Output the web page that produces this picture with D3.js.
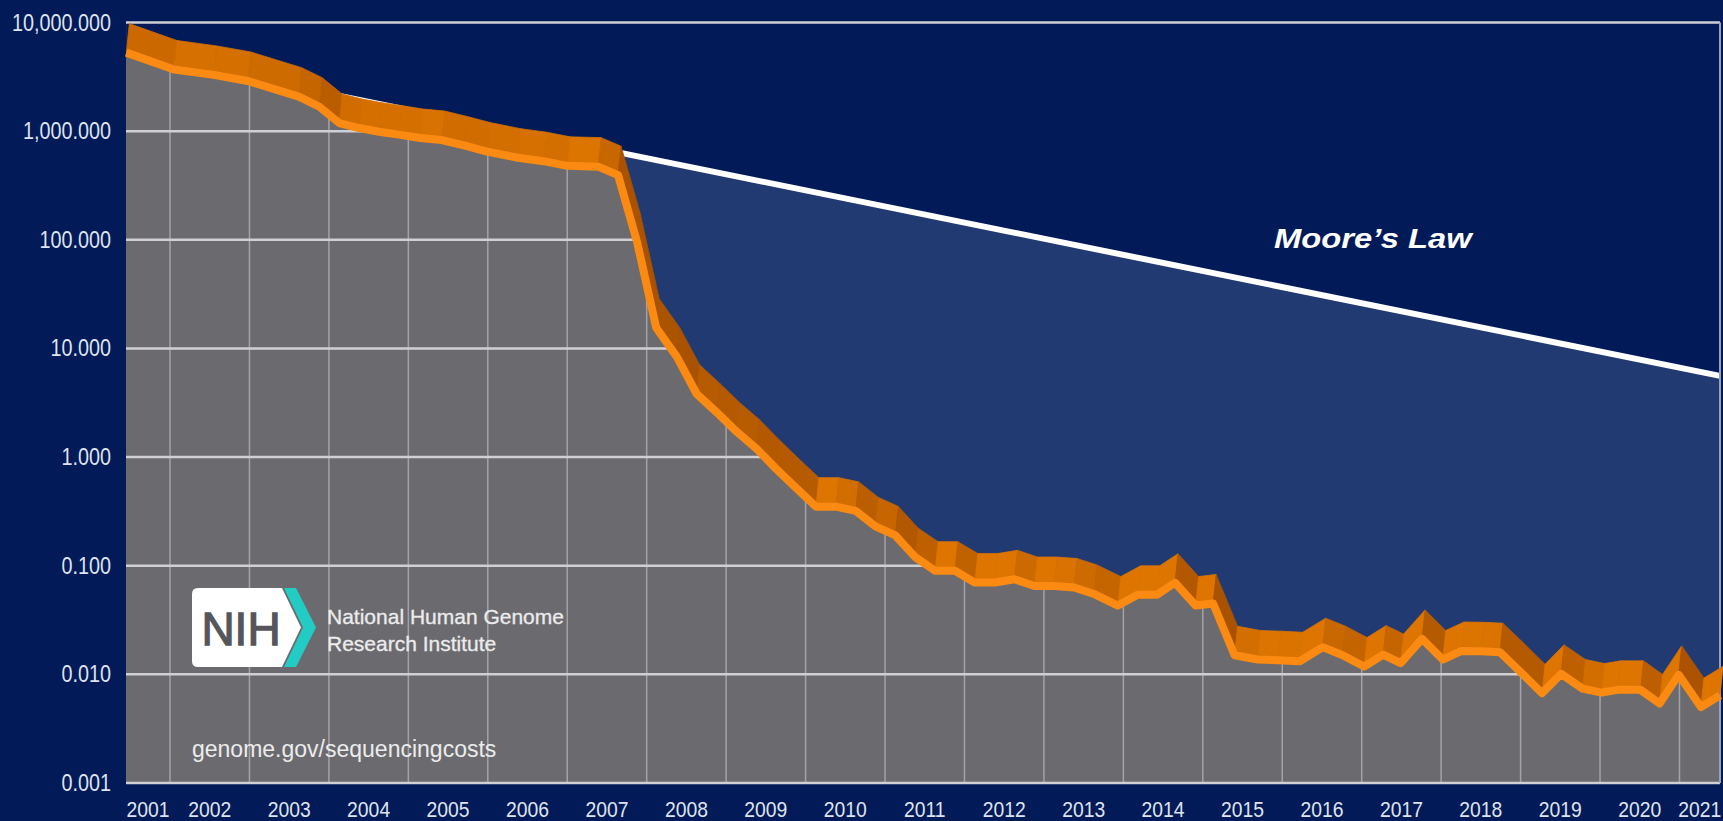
<!DOCTYPE html>
<html>
<head>
<meta charset="utf-8">
<script src="https://cdn.jsdelivr.net/npm/d3@7"></script>
<style>
  html, body { margin: 0; padding: 0; background: #021a57; }
  svg { display: block; }
</style>
</head>
<body>
<svg id="chart" width="1723" height="821"></svg>
<script>
// ---- data -------------------------------------------------------------
const yearLabels = [2001, 2002, 2003, 2004, 2005, 2006, 2007, 2008, 2009, 2010,
                    2011, 2012, 2013, 2014, 2015, 2016, 2017, 2018, 2019, 2020, 2021];
const yTickValues = [10000, 1000, 100, 10, 1, 0.1, 0.01, 0.001];
const yTickLabels = ["10,000.000", "1,000.000", "100.000", "10.000", "1.000", "0.100", "0.010", "0.001"];

// sample time (decimal year) and cost per raw megabase (USD)
const sampleDates = [
  2001.45, 2002.05, 2002.55, 2002.98, 2003.62, 2003.88, 2004.13, 2004.38, 2004.63, 2004.88,
  2005.15, 2005.42, 2005.70, 2005.99, 2006.38, 2006.70, 2007.00, 2007.39, 2007.64, 2007.88,
  2008.12, 2008.38, 2008.63, 2008.88, 2009.13, 2009.38, 2009.63, 2009.88, 2010.13, 2010.38,
  2010.63, 2010.88, 2011.13, 2011.38, 2011.63, 2011.88, 2012.13, 2012.38, 2012.63, 2012.88,
  2013.13, 2013.38, 2013.63, 2013.93, 2014.18, 2014.42, 2014.65, 2014.91, 2015.13, 2015.40,
  2015.69, 2015.95, 2016.22, 2016.51, 2016.76, 2017.03, 2017.27, 2017.49, 2017.76, 2018.02,
  2018.25, 2018.50, 2018.74, 2019.00, 2019.27, 2019.51, 2019.78, 2020.02, 2020.22, 2020.51,
  2020.75, 2020.99, 2021.27, 2021.51
];
const costPerMb = [
  5292, 3700, 3300, 2900, 2080, 1680, 1190, 1070, 990, 930,
  865, 830, 740, 650, 570, 530, 480, 472, 394, 95,
  15.5, 8.36, 3.81, 2.59, 1.72, 1.20, 0.78, 0.52, 0.35, 0.35,
  0.32, 0.23, 0.19, 0.12, 0.09, 0.09, 0.07, 0.07, 0.075, 0.065,
  0.065, 0.063, 0.055, 0.043, 0.054, 0.054, 0.0697, 0.043, 0.045, 0.015,
  0.0137, 0.0135, 0.0132, 0.0178, 0.015, 0.0118, 0.0152, 0.0127, 0.0212, 0.0137,
  0.0164, 0.0163, 0.016, 0.0105, 0.0067, 0.0101, 0.0074, 0.0068, 0.0072, 0.0072,
  0.0054, 0.0099, 0.0050, 0.0064
];

// Moore's law reference line (halving every two years)
const mooreDates = [2001.45, 2021.51];
const mooreCost = [5292, 5.6];

// ---- layout -----------------------------------------------------------
const W = 1723, H = 821;
const plot = { left: 126, right: 1720, top: 22.6, bottom: 783 };
const axisStart = 2001.446, axisEnd = 2021.51;

const colors = {
  navy: "#021a57",
  blue: "#223a72",
  gray: "#6b6b6f",
  grid: "#cfd0d4",
  vgrid: "#a2a2a7",
  ribbonFlat: "#dd7500",
  ribbonSteep: "#a95200",
  front: "#fb8a12",
  moore: "#ffffff",
  label: "#dfe4f0"
};

const svg = d3.select("#chart");
const x = d3.scaleLinear().domain([axisStart, axisEnd]).range([plot.left, plot.right]);
const y = d3.scaleLog().domain([0.001, 10000]).range([plot.bottom, plot.top]);

const series = sampleDates.map((t, i) => ({ t, v: costPerMb[i] }));
const moore = mooreDates.map((t, i) => ({ t, v: mooreCost[i] }));

svg.append("rect").attr("width", W).attr("height", H).attr("fill", colors.navy);

// plot area (region below the cost curve shows through as grey)
svg.append("rect")
  .attr("x", plot.left).attr("y", plot.top)
  .attr("width", plot.right - plot.left).attr("height", plot.bottom - plot.top)
  .attr("fill", colors.gray);

// grid
const yearGrid = d3.range(2002, 2022);
svg.append("g").selectAll("line").data(yearGrid).join("line")
  .attr("x1", d => x(d)).attr("x2", d => x(d))
  .attr("y1", plot.top).attr("y2", plot.bottom)
  .attr("stroke", colors.vgrid).attr("stroke-width", 1.5);

svg.append("g").selectAll("line").data(yTickValues).join("line")
  .attr("x1", plot.left).attr("x2", plot.right)
  .attr("y1", d => y(d)).attr("y2", d => y(d))
  .attr("stroke", colors.grid).attr("stroke-width", 2.5);

// region above the cost curve
const above = d3.area().x(d => x(d.t)).y0(plot.top).y1(d => y(d.v));
svg.append("path").datum(series).attr("d", above).attr("fill", colors.blue);

// region above Moore's law
const aboveMoore = d3.area().x(d => x(d.t)).y0(0).y1(d => y(d.v));
svg.append("path").datum(moore).attr("d", aboveMoore).attr("fill", colors.navy);

// Moore's law line
const line = d3.line().x(d => x(d.t)).y(d => y(d.v));
svg.append("path").datum(moore).attr("d", line)
  .attr("fill", "none").attr("stroke", colors.moore).attr("stroke-width", 6);

// top grid line and right frame
svg.append("line")
  .attr("x1", plot.left).attr("x2", plot.right)
  .attr("y1", y(10000)).attr("y2", y(10000))
  .attr("stroke", colors.grid).attr("stroke-width", 2.5);
svg.append("line")
  .attr("x1", plot.right).attr("x2", plot.right)
  .attr("y1", plot.top).attr("y2", plot.bottom)
  .attr("stroke", "#9aa2b8").attr("stroke-width", 2);

// extruded ribbon behind the cost line
const depth = { dx: 3, dy: -29 };
const shade = d3.interpolateRgb(colors.ribbonFlat, colors.ribbonSteep);
const faceShade = ([a, b]) => {
  const ang = Math.atan2(y(b.v) - y(a.v), x(b.t) - x(a.t)); // positive when falling
  return shade(Math.max(0, Math.min(1, ang / 1.0)));
};
const segs = d3.pairs(series);
svg.append("g").selectAll("path").data(segs).join("path")
  .attr("d", ([a, b]) => {
    const x0 = x(a.t), y0 = y(a.v), x1 = x(b.t), y1 = y(b.v);
    return `M${x0},${y0}L${x1},${y1}L${x1 + depth.dx},${y1 + depth.dy}L${x0 + depth.dx},${y0 + depth.dy}Z`;
  })
  .attr("fill", faceShade)
  .attr("stroke", faceShade)
  .attr("stroke-width", 0.8);

// front edge of the ribbon: the cost curve itself
svg.append("path").datum(series).attr("d", line)
  .attr("fill", "none").attr("stroke", colors.front)
  .attr("stroke-width", 8).attr("stroke-linejoin", "round").attr("stroke-linecap", "butt");

// ---- axis labels ------------------------------------------------------
const labelFont = "'Liberation Sans', Arial, Helvetica, sans-serif";
svg.append("g").selectAll("text").data(yTickValues).join("text")
  .attr("transform", d => `translate(111,${y(d) + 8}) scale(0.86,1)`)
  .attr("text-anchor", "end")
  .attr("font-family", labelFont).attr("font-size", 23)
  .attr("fill", colors.label)
  .text((d, i) => yTickLabels[i]);

svg.append("g").selectAll("text").data(yearLabels).join("text")
  .attr("transform", d => {
    const a = Math.max(d, axisStart), b = Math.min(d + 1, axisEnd);
    return `translate(${(x(a) + x(b)) / 2},816.5) scale(0.86,1)`;
  })
  .attr("text-anchor", "middle")
  .attr("font-family", labelFont).attr("font-size", 22.5)
  .attr("fill", colors.label)
  .text(d => d);

// Moore's law caption
svg.append("text")
  .attr("transform", "translate(1274,248) scale(1.17,1)")
  .attr("font-family", labelFont).attr("font-size", 28)
  .attr("font-weight", "bold").attr("font-style", "italic")
  .attr("fill", "#ffffff")
  .text("Moore\u2019s Law");

// ---- NIH logo and source ---------------------------------------------
const logo = svg.append("g");
logo.append("path")
  .attr("d", "M198,588 H282 L301,627.5 L282,667 H198 Q192,667 192,661 V594 Q192,588 198,588 Z")
  .attr("fill", "#ffffff");
logo.append("path")
  .attr("d", "M284,588 H296 L316,627.5 L296,667 H284 L303,627.5 Z")
  .attr("fill", "#22cbc4");
logo.append("text")
  .attr("x", 241).attr("y", 645)
  .attr("text-anchor", "middle")
  .attr("font-family", labelFont).attr("font-size", 46)
  .attr("fill", "#55565b").attr("stroke", "#55565b").attr("stroke-width", 1.3)
  .text("NIH");
logo.append("text")
  .attr("x", 327).attr("y", 623.5)
  .attr("font-family", labelFont).attr("font-size", 21)
  .attr("fill", "#ececec").attr("stroke", "#ececec").attr("stroke-width", 0.3)
  .text("National Human Genome");
logo.append("text")
  .attr("x", 327).attr("y", 650.5)
  .attr("font-family", labelFont).attr("font-size", 21)
  .attr("fill", "#ececec").attr("stroke", "#ececec").attr("stroke-width", 0.3)
  .text("Research Institute");

svg.append("text")
  .attr("x", 192).attr("y", 756.5)
  .attr("font-family", labelFont).attr("font-size", 23)
  .attr("fill", "#ececec")
  .text("genome.gov/sequencingcosts");
</script>
</body>
</html>
